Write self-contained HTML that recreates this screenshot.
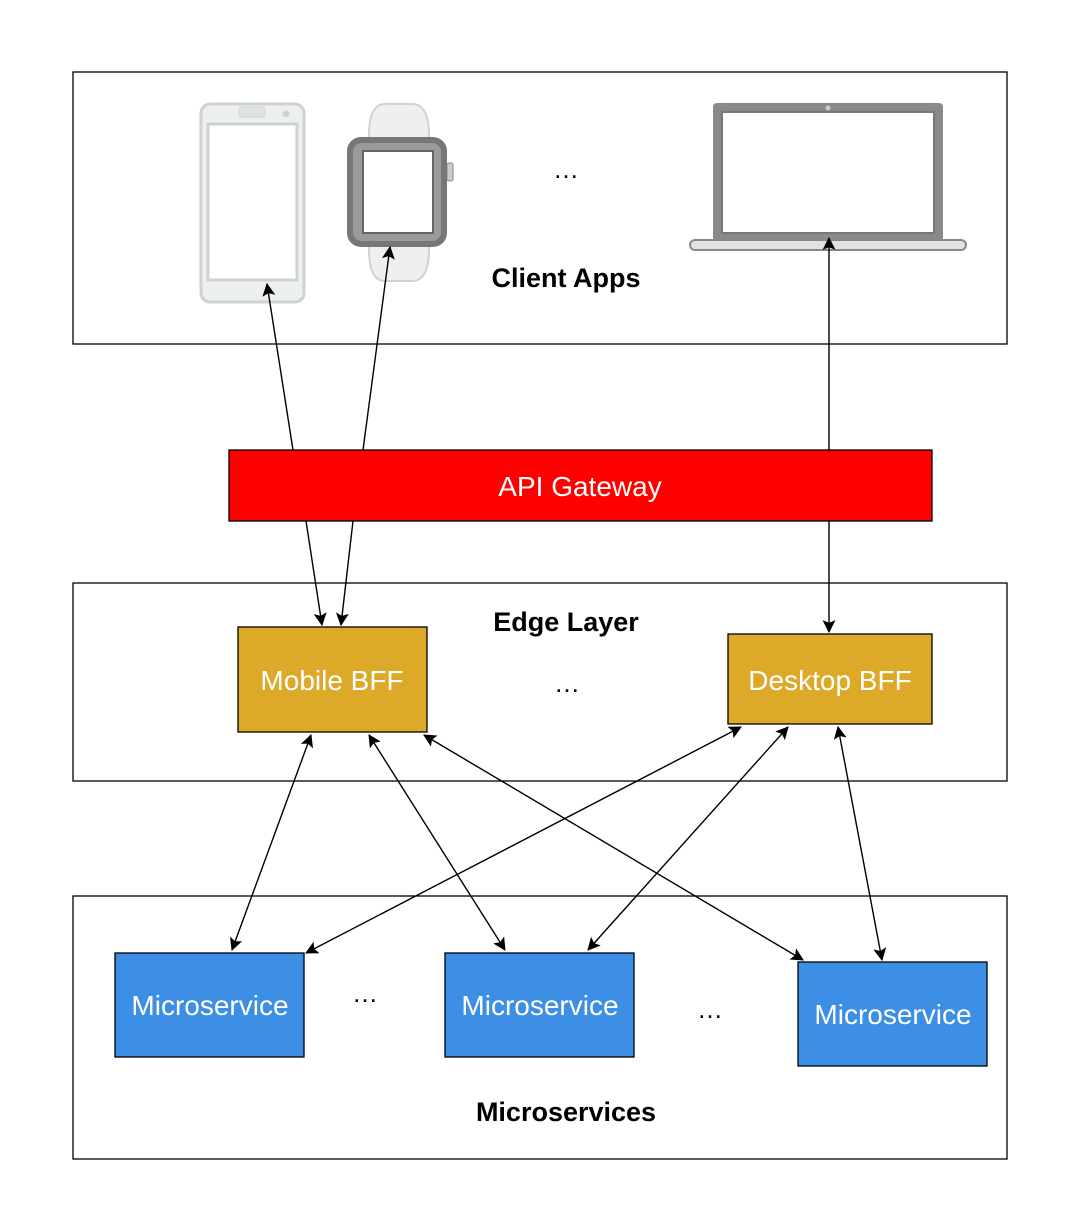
<!DOCTYPE html>
<html><head><meta charset="utf-8"><style>
html,body{margin:0;padding:0;background:#fff}
svg{display:block}
text{font-family:"Liberation Sans",sans-serif}
</style></head><body>
<svg width="1080" height="1232" viewBox="0 0 1080 1232" xmlns="http://www.w3.org/2000/svg">
<defs>
<marker id="a" viewBox="0 0 12 12" refX="11" refY="6" markerWidth="13" markerHeight="13" markerUnits="userSpaceOnUse" orient="auto-start-reverse">
<path d="M0,0 L12,6 L0,12 L2.5,6 z" fill="#000"/></marker>
</defs>
<rect x="73" y="72" width="934" height="272" fill="#fff" stroke="#000" stroke-width="1.3"/>
<rect x="73" y="583" width="934" height="198" fill="#fff" stroke="#000" stroke-width="1.3"/>
<rect x="73" y="896" width="934" height="263" fill="#fff" stroke="#000" stroke-width="1.3"/>

<!-- phone -->
<rect x="201" y="104" width="103" height="198" rx="9" fill="#eef0f0" stroke="#cdd2d2" stroke-width="3"/>
<rect x="208" y="124" width="89" height="156" fill="#fff" stroke="#cdd2d2" stroke-width="3"/>
<rect x="239" y="107" width="26" height="10" rx="2" fill="#dfe3e3" stroke="#cdd2d2"/>
<circle cx="286" cy="114" r="3.5" fill="#cdd2d2"/>
<!-- watch -->
<path d="M369,140 Q368,104 385,104 L412,104 Q430,104 429,140 Z" fill="#eef0f0" stroke="#cdd2d2" stroke-width="2"/>
<path d="M369,245 Q368,281 385,281 L412,281 Q430,281 429,245 Z" fill="#eef0f0" stroke="#cdd2d2" stroke-width="2"/>
<rect x="447" y="163" width="6" height="18" rx="2" fill="#ccc" stroke="#888"/>
<rect x="347" y="137" width="100" height="110" rx="14" fill="#777"/>
<rect x="353" y="143" width="88" height="98" rx="9" fill="#9a9a9a"/>
<rect x="363" y="151" width="70" height="82" fill="#fff" stroke="#666" stroke-width="2"/>
<text x="566" y="178" font-size="26" text-anchor="middle">…</text>
<!-- laptop -->
<rect x="713" y="103" width="230" height="138" rx="4" fill="#8a8a8a"/>
<rect x="722" y="112" width="212" height="121" fill="#fff" stroke="#777" stroke-width="2"/>
<circle cx="828" cy="108" r="2.5" fill="#ccc"/>
<rect x="690" y="240" width="276" height="10" rx="5" fill="#e2e2e2" stroke="#888" stroke-width="2"/>
<text x="566" y="287" font-size="27" font-weight="bold" text-anchor="middle">Client Apps</text>

<rect x="229" y="450" width="703" height="71" fill="#ff0000" stroke="#000" stroke-width="1.3"/>
<text x="580" y="496" font-size="28" fill="#fff" text-anchor="middle">API Gateway</text>

<text x="566" y="631" font-size="27" font-weight="bold" text-anchor="middle">Edge Layer</text>
<rect x="238" y="627" width="189" height="105" fill="#dcaa28" stroke="#000" stroke-width="1.3"/>
<text x="332" y="690" font-size="28" fill="#fff" text-anchor="middle">Mobile BFF</text>
<text x="567" y="692" font-size="26" text-anchor="middle">…</text>
<rect x="728" y="634" width="204" height="90" fill="#dcaa28" stroke="#000" stroke-width="1.3"/>
<text x="830" y="690" font-size="28" fill="#fff" text-anchor="middle">Desktop BFF</text>

<rect x="115" y="953" width="189" height="104" fill="#3d8fe6" stroke="#000" stroke-width="1.3"/>
<text x="210" y="1015" font-size="28" fill="#fff" text-anchor="middle">Microservice</text>
<text x="365" y="1002" font-size="26" text-anchor="middle">…</text>
<rect x="445" y="953" width="189" height="104" fill="#3d8fe6" stroke="#000" stroke-width="1.3"/>
<text x="540" y="1015" font-size="28" fill="#fff" text-anchor="middle">Microservice</text>
<text x="710" y="1018" font-size="26" text-anchor="middle">…</text>
<rect x="798" y="962" width="189" height="104" fill="#3d8fe6" stroke="#000" stroke-width="1.3"/>
<text x="893" y="1024" font-size="28" fill="#fff" text-anchor="middle">Microservice</text>
<text x="566" y="1121" font-size="27" font-weight="bold" text-anchor="middle">Microservices</text>

<g stroke="#000" stroke-width="1.4" fill="none">
<line x1="293" y1="450" x2="267" y2="284" marker-end="url(#a)"/>
<line x1="306" y1="521" x2="322" y2="625" marker-end="url(#a)"/>
<line x1="363" y1="450" x2="390" y2="247" marker-end="url(#a)"/>
<line x1="353" y1="521" x2="341" y2="625" marker-end="url(#a)"/>
<line x1="829" y1="450" x2="829" y2="238" marker-end="url(#a)"/>
<line x1="829" y1="521" x2="829" y2="632" marker-end="url(#a)"/>
<line x1="311" y1="735" x2="232" y2="950" marker-start="url(#a)" marker-end="url(#a)"/>
<line x1="369" y1="735" x2="505" y2="950" marker-start="url(#a)" marker-end="url(#a)"/>
<line x1="424" y1="735" x2="803" y2="960" marker-start="url(#a)" marker-end="url(#a)"/>
<line x1="741" y1="727" x2="306" y2="953" marker-start="url(#a)" marker-end="url(#a)"/>
<line x1="788" y1="727" x2="588" y2="950" marker-start="url(#a)" marker-end="url(#a)"/>
<line x1="838" y1="727" x2="882" y2="960" marker-start="url(#a)" marker-end="url(#a)"/>
</g>
</svg>
</body></html>
